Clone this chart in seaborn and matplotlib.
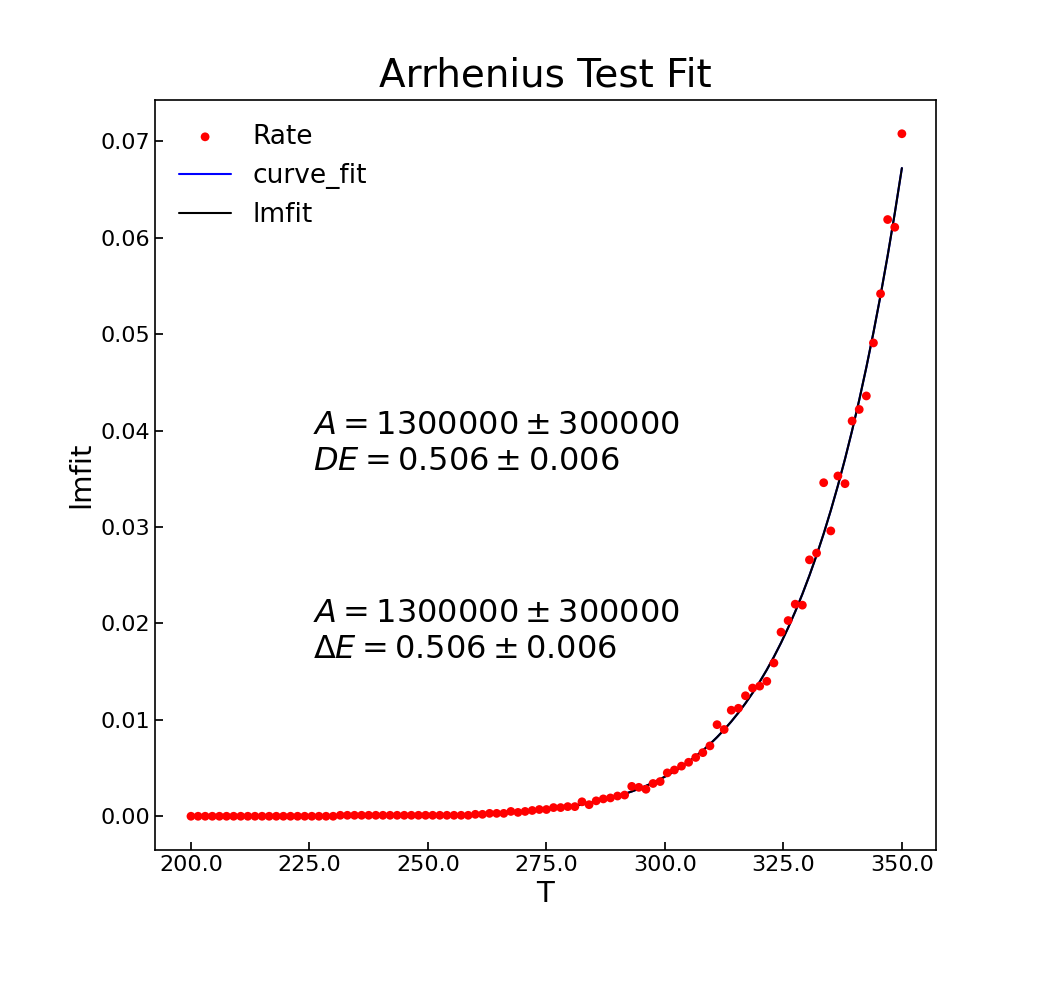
import numpy as np
import matplotlib
matplotlib.use("Agg")
import matplotlib.pyplot as plt
import seaborn as sns
from matplotlib.ticker import FormatStrFormatter

A_fit = 1.3e6
DE_fit = 0.506
kB = 8.617e-5

rate = ([0.0] * 21 + [0.0001] * 19 +
        [0.0002, 0.0002, 0.0003, 0.0003, 0.0003, 0.0005, 0.0004, 0.0005, 0.0006, 0.0007,
         0.0007, 0.0009, 0.0009, 0.0010, 0.0010, 0.0015, 0.0012, 0.0016, 0.0018, 0.0019,
         0.0021, 0.0022, 0.0031, 0.0030, 0.0028, 0.0034, 0.0036, 0.0045, 0.0048, 0.0052,
         0.0056, 0.0061, 0.0066, 0.0073] +
        [0.0095, 0.0090, 0.0110, 0.0112, 0.0125, 0.0133, 0.0135, 0.0140, 0.0159, 0.0191,
         0.0203, 0.0220, 0.0219, 0.0266, 0.0273, 0.0346, 0.0296, 0.0353, 0.0345, 0.0410,
         0.0422, 0.0436, 0.0491, 0.0542, 0.0619, 0.0611, 0.0708])
T = np.linspace(200, 350, len(rate))
fit = A_fit * np.exp(-DE_fit / (kB * T))

sns.set_theme(style="ticks")
plt.rcParams['font.family'] = ['DejaVu Sans']
for k in ['text.color', 'axes.labelcolor', 'xtick.color', 'ytick.color', 'axes.edgecolor']:
    plt.rcParams[k] = 'black'
fig = plt.figure(figsize=(10.4, 10), dpi=100)
ax = fig.add_axes([0.149, 0.15, 0.751, 0.75])

sns.scatterplot(x=T, y=rate, ax=ax, color='red', s=40, edgecolor='none', label='Rate', zorder=3)
sns.lineplot(x=T, y=fit, ax=ax, color='blue', lw=1.5, label='curve_fit')
sns.lineplot(x=T, y=fit, ax=ax, color='black', lw=1.5, label='lmfit')

ax.set_xlim(192.4, 357.2)
ax.set_ylim(-0.0035, 0.0743)
ax.xaxis.set_major_formatter(FormatStrFormatter('%.1f'))
ax.set_xticks([200, 225, 250, 275, 300, 325, 350])
ax.tick_params(direction='in', labelsize=16, length=6, top=False, right=False)
for s in ax.spines.values():
    s.set_linewidth(1.2)
ax.set_xlabel('T', fontsize=21)
ax.set_ylabel('lmfit', fontsize=21)
ax.set_title('Arrhenius Test Fit', fontsize=28, pad=10)

ax.text(225.8, 0.0387, '$A = 1300000 \\pm 300000$\n$DE = 0.506 \\pm 0.006$', fontsize=23, va='center')
ax.text(225.8, 0.0192, '$A = 1300000 \\pm 300000$\n$\\Delta E = 0.506 \\pm 0.006$', fontsize=23, va='center')

ax.legend(loc='upper left', frameon=False, fontsize=19)
fig.savefig('out.png', dpi=100)
